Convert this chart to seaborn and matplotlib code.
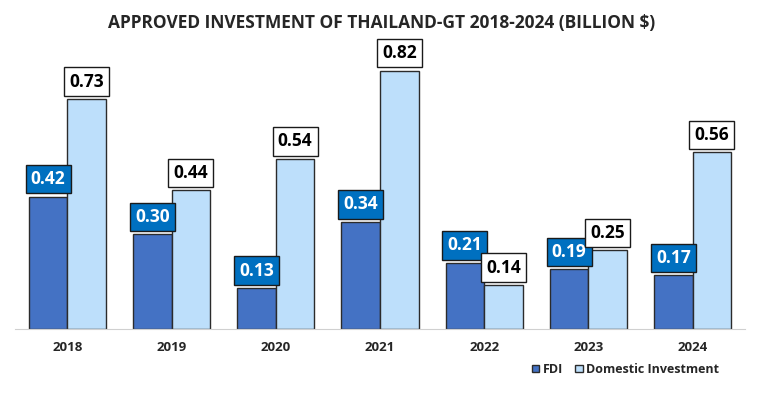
import pandas as pd
import matplotlib.pyplot as plt
import seaborn as sns

years = ["2018", "2019", "2020", "2021", "2022", "2023", "2024"]
fdi = [0.42, 0.30, 0.13, 0.34, 0.21, 0.19, 0.17]
domestic = [0.73, 0.44, 0.54, 0.82, 0.14, 0.25, 0.56]
series = ["FDI", "Domestic Investment"]
colors = ["#4472C4", "#BDDFFB"]

df = pd.DataFrame({"Year": years, series[0]: fdi, series[1]: domestic})
df = df.melt(id_vars="Year", var_name="Type", value_name="Value")

sns.set_style("white")
plt.rcParams["font.family"] = ["Open Sans", "DejaVu Sans"]

fig = plt.figure(figsize=(7.63, 3.94), dpi=100)
ax = fig.add_axes([0.02, 0.165, 0.956, 0.72])

sns.barplot(data=df, x="Year", y="Value", hue="Type", palette=colors,
            saturation=1, width=0.74, gap=0, edgecolor="#2b2b2b", linewidth=1,
            ax=ax, legend=True)

ax.set_xlim(-0.5, 6.5)
ax.set_ylim(0, 0.9)
ax.set_xlabel("")
ax.set_ylabel("")
ax.set_yticks([])
for s in ["top", "right", "left"]:
    ax.spines[s].set_visible(False)
ax.spines["bottom"].set_color("#d0d0d0")
ax.tick_params(axis="x", length=0, pad=9)
for lbl in ax.get_xticklabels():
    lbl.set_fontweight("bold")
    lbl.set_fontsize(9.5)

# value labels in boxes above the bars
box_styles = [
    dict(boxstyle="square,pad=0.3", fc="#0070C0", ec="#1a1a1a", lw=1),
    dict(boxstyle="square,pad=0.3", fc="white", ec="#1a1a1a", lw=1),
]
text_colors = ["white", "black"]
for cont, vals, bs, tc in zip(ax.containers, [fdi, domestic], box_styles, text_colors):
    ax.bar_label(cont, labels=[f"{v:.2f}" for v in vals], padding=6,
                 fontsize=12.5, fontweight="bold", color=tc, bbox=bs)

fig.suptitle("APPROVED INVESTMENT OF THAILAND-GT 2018-2024 (BILLION $)",
             x=0.5, y=0.965, fontsize=12.5, fontweight="bold")

ax.legend(loc="upper right", bbox_to_anchor=(0.98, -0.08), ncol=2, frameon=False,
          handlelength=0.6, handleheight=0.6, handletextpad=0.25,
          columnspacing=1.0, prop={"weight": "bold", "size": 9})

fig.savefig("out.png", dpi=100)
